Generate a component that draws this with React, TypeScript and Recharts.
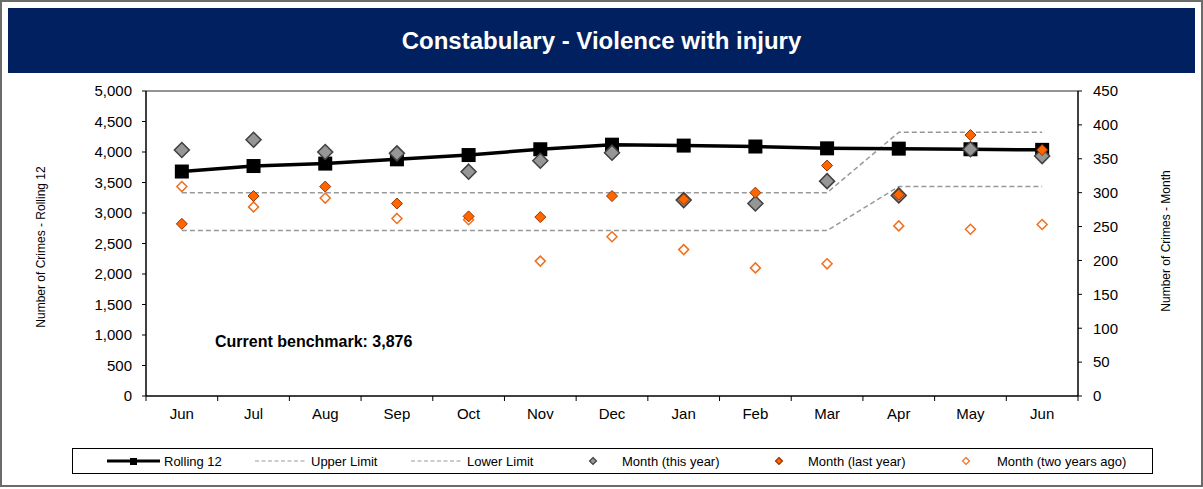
import React from 'react';
import { ComposedChart, Line, XAxis, YAxis, ReferenceLine } from 'recharts';

const months = ['Jun', 'Jul', 'Aug', 'Sep', 'Oct', 'Nov', 'Dec', 'Jan', 'Feb', 'Mar', 'Apr', 'May', 'Jun'];
const rolling12 = [3680, 3770, 3810, 3880, 3950, 4045, 4120, 4105, 4090, 4060, 4055, 4045, 4035];
const upperLimit = [300, 300, 300, 300, 300, 300, 300, 300, 300, 300, 389, 389, 389];
const lowerLimit = [244, 244, 244, 244, 244, 244, 244, 244, 244, 244, 309, 309, 309];
const monthThisYear = [363, 378, 360, 358, 331, 347, 359, 289, 284, 317, 296, 364, 354];
const monthLastYear = [254, 295, 309, 284, 265, 264, 295, 290, 300, 340, 297, 385, 363];
const monthTwoYearsAgo = [309, 279, 292, 262, 260, 199, 235, 216, 189, 195, 251, 246, 253];
const leftTicks = [0, 500, 1000, 1500, 2000, 2500, 3000, 3500, 4000, 4500, 5000];
const rightTicks = [0, 50, 100, 150, 200, 250, 300, 350, 400, 450];
const title = 'Constabulary - Violence with injury';
const benchmarkText = 'Current benchmark: 3,876';

const data = months.map((m, i) => ({
  month: m,
  rolling: rolling12[i],
  upper: upperLimit[i],
  lower: lowerLimit[i],
  thisYear: monthThisYear[i],
  lastYear: monthLastYear[i],
  twoYears: monthTwoYearsAgo[i],
}));

const FONT = '"Liberation Sans", Arial, sans-serif';
const W = 1203;
const H = 489;
const PLOT_L = 146;
const PLOT_R = 1078;
const PLOT_T = 91;
const PLOT_B = 396;
const LW = 60;
const RW = 60;
const XH = 30;
const BAND = (PLOT_R - PLOT_L) / months.length;

const diamond = (cx: number, cy: number, r: number) =>
  `${cx},${cy - r} ${cx + r},${cy} ${cx},${cy + r} ${cx - r},${cy}`;

const SquareDot = (p: any) => {
  if (p.cx == null || p.cy == null) return <g key={p.index} />;
  return <rect key={p.index} x={p.cx - 7} y={p.cy - 7} width={14} height={14} fill="#000" />;
};
const GrayDot = (p: any) => {
  if (p.cx == null || p.cy == null) return <g key={p.index} />;
  return <polygon key={p.index} points={diamond(p.cx, p.cy, 7.5)} fill="#969696" stroke="#404040" strokeWidth={1.5} />;
};
const OrangeDot = (p: any) => {
  if (p.cx == null || p.cy == null) return <g key={p.index} />;
  return <polygon key={p.index} points={diamond(p.cx, p.cy, 5.5)} fill="#FF6600" stroke="#993300" strokeWidth={1} />;
};
const HollowDot = (p: any) => {
  if (p.cx == null || p.cy == null) return <g key={p.index} />;
  return <polygon key={p.index} points={diamond(p.cx, p.cy, 5)} fill="#fff" stroke="#F07020" strokeWidth={1.5} />;
};

const XTick = (p: any) => {
  const { x, y, payload, index } = p;
  const isLast = index === months.length - 1;
  return (
    <g>
      <line x1={x - BAND / 2} x2={x - BAND / 2} y1={y} y2={y + 5} stroke="#000" strokeWidth={1} />
      {isLast && <line x1={x + BAND / 2} x2={x + BAND / 2} y1={y} y2={y + 5} stroke="#000" strokeWidth={1} />}
      <text x={x} y={y + 23} textAnchor="middle" fontSize={15} fontFamily={FONT} fill="#000">
        {payload.value}
      </text>
    </g>
  );
};

const fmt = (v: number) => v.toLocaleString('en-US');

const legendItems = [
  { label: 'Rolling 12', kind: 'rolling', mx: 107, tx: 164 },
  { label: 'Upper Limit', kind: 'dash', mx: 255, tx: 311 },
  { label: 'Lower Limit', kind: 'dash', mx: 411, tx: 467 },
  { label: 'Month (this year)', kind: 'gray', mx: 593, tx: 622 },
  { label: 'Month (last year)', kind: 'orange', mx: 779, tx: 808 },
  { label: 'Month (two years ago)', kind: 'hollow', mx: 966, tx: 997 },
];

const LegendMarker = ({ kind }: { kind: string }) => {
  if (kind === 'rolling') {
    return (
      <svg width={54} height={12}>
        <line x1={0} x2={53} y1={6} y2={6} stroke="#000" strokeWidth={3} />
        <rect x={23} y={3} width={7} height={7} fill="#000" />
      </svg>
    );
  }
  if (kind === 'dash') {
    return (
      <svg width={50} height={12}>
        <line x1={0} x2={50} y1={6} y2={6} stroke="#999" strokeWidth={1.2} strokeDasharray="4 2.5" />
      </svg>
    );
  }
  const fill = kind === 'gray' ? '#969696' : kind === 'orange' ? '#FF6600' : '#fff';
  const stroke = kind === 'gray' ? '#404040' : kind === 'orange' ? '#993300' : '#F07020';
  return (
    <svg width={10} height={12}>
      <polygon points={diamond(5, 6, 3.5)} fill={fill} stroke={stroke} strokeWidth={1.2} />
    </svg>
  );
};

export default function App() {
  return (
    <div style={{ position: 'absolute', left: 0, top: 0, width: W, height: H, background: '#fff', fontFamily: FONT }}>
      <div style={{ position: 'absolute', left: 0, top: 0, width: 1199, height: 483, border: '2px solid #6b6b6b' }} />
      <div
        style={{
          position: 'absolute', left: 8, top: 8, width: 1187, height: 65, background: '#002060',
          color: '#fff', fontWeight: 'bold', fontSize: 24, lineHeight: '65px', textAlign: 'center',
        }}
      >
        {title}
      </div>
      <div style={{ position: 'absolute', left: 0, top: 0 }}>
        <ComposedChart
          width={W}
          height={H}
          data={data}
          margin={{ top: PLOT_T, left: PLOT_L - LW, right: W - PLOT_R - RW, bottom: H - PLOT_B - XH }}
        >
          <XAxis
            dataKey="month"
            height={XH}
            tickSize={0}
            tickMargin={0}
            tickLine={false}
            interval={0}
            padding={{ left: BAND / 2, right: BAND / 2 }}
            axisLine={{ stroke: '#000', strokeWidth: 1.5 }}
            tick={<XTick />}
          />
          <YAxis
            yAxisId="left"
            width={LW}
            domain={[0, 5000]}
            ticks={leftTicks}
            interval={0}
            tickFormatter={fmt}
            tickSize={4}
            tickMargin={10}
            axisLine={{ stroke: '#000', strokeWidth: 1.5 }}
            tickLine={{ stroke: '#000' }}
            tick={{ fontSize: 15, fill: '#000', fontFamily: FONT }}
          />
          <YAxis
            yAxisId="right"
            orientation="right"
            width={RW}
            domain={[0, 450]}
            ticks={rightTicks}
            interval={0}
            tickSize={4}
            tickMargin={11}
            axisLine={{ stroke: '#000', strokeWidth: 1.5 }}
            tickLine={{ stroke: '#000' }}
            tick={{ fontSize: 15, fill: '#000', fontFamily: FONT, textAnchor: 'start' }}
          />
          <ReferenceLine yAxisId="left" y={5000} stroke="#707070" strokeWidth={1.5} />
          <Line yAxisId="right" dataKey="upper" stroke="#999" strokeWidth={1.5} strokeDasharray="5 3" dot={false} isAnimationActive={false} type="linear" />
          <Line yAxisId="right" dataKey="lower" stroke="#999" strokeWidth={1.5} strokeDasharray="5 3" dot={false} isAnimationActive={false} type="linear" />
          <Line yAxisId="left" dataKey="rolling" stroke="#000" strokeWidth={3.5} dot={SquareDot} isAnimationActive={false} type="linear" />
          <Line yAxisId="right" dataKey="thisYear" stroke="none" dot={GrayDot} isAnimationActive={false} />
          <Line yAxisId="right" dataKey="twoYears" stroke="none" dot={HollowDot} isAnimationActive={false} />
          <Line yAxisId="right" dataKey="lastYear" stroke="none" dot={OrangeDot} isAnimationActive={false} />
        </ComposedChart>
      </div>
      <div
        style={{
          position: 'absolute', left: 41, top: 247, transform: 'translate(-50%, -50%) rotate(-90deg)',
          fontSize: 12, whiteSpace: 'nowrap', color: '#000',
        }}
      >
        Number of Crimes - Rolling 12
      </div>
      <div
        style={{
          position: 'absolute', left: 1166, top: 241, transform: 'translate(-50%, -50%) rotate(-90deg)',
          fontSize: 12, whiteSpace: 'nowrap', color: '#000',
        }}
      >
        Number of Crimes - Month
      </div>
      <div
        style={{
          position: 'absolute', left: 215, top: 333, fontSize: 16, fontWeight: 'bold', lineHeight: '18px',
          whiteSpace: 'nowrap', color: '#000',
        }}
      >
        {benchmarkText}
      </div>
      <div
        style={{
          position: 'absolute', left: 72, top: 448, width: 1081, height: 26, border: '1px solid #000',
          boxSizing: 'border-box',
        }}
      />
      {legendItems.map((it) => (
        <React.Fragment key={it.label}>
          <div style={{ position: 'absolute', left: it.kind === 'gray' || it.kind === 'orange' || it.kind === 'hollow' ? it.mx - 5 : it.mx, top: 455, height: 12, lineHeight: 0 }}>
            <LegendMarker kind={it.kind} />
          </div>
          <div style={{ position: 'absolute', left: it.tx, top: 452, fontSize: 13, lineHeight: '20px', whiteSpace: 'nowrap', color: '#000' }}>
            {it.label}
          </div>
        </React.Fragment>
      ))}
    </div>
  );
}
